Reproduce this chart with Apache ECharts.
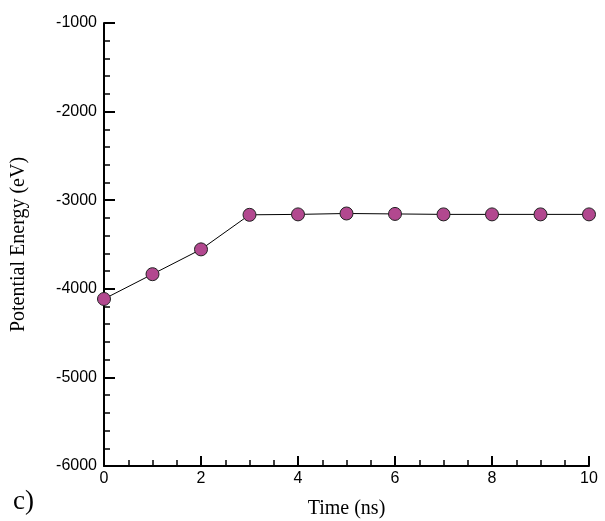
<!DOCTYPE html>
<html>
<head>
<meta charset="utf-8">
<script src="https://cdn.jsdelivr.net/npm/echarts@6/dist/echarts.min.js"></script>
<style>
  html, body { margin: 0; padding: 0; background: #fff; }
  #chart { width: 605px; height: 521px; }
</style>
</head>
<body>
<div id="chart"></div>
<script>
let timeNs = [0, 1, 2, 3, 4, 5, 6, 7, 8, 9, 10];
let energy = [-4115, -3835, -3555, -3165, -3160, -3150, -3155, -3160, -3160, -3160, -3160];

let chart = echarts.init(document.getElementById('chart'));

let option = {
  animation: false,
  grid: {
    left: 104,
    right: 16,
    top: 23,
    bottom: 55,
    outerBoundsMode: 'none'
  },
  xAxis: {
    type: 'value',
    min: 0,
    max: 10,
    interval: 2,
    name: 'Time (ns)',
    nameLocation: 'middle',
    nameGap: 33,
    nameTextStyle: { fontFamily: 'Liberation Serif', fontSize: 20, color: '#000' },
    axisLine: { lineStyle: { color: '#000', width: 2 } },
    axisTick: { inside: true, length: 10, lineStyle: { color: '#000', width: 2 } },
    minorTick: { show: true, splitNumber: 4, length: 6, lineStyle: { color: '#000', width: 1.5 } },
    axisLabel: { fontFamily: 'Liberation Sans', fontSize: 16, color: '#000', margin: 5 },
    splitLine: { show: false }
  },
  yAxis: {
    type: 'value',
    min: -6000,
    max: -1000,
    interval: 1000,
    name: 'Potential Energy (eV)',
    nameLocation: 'middle',
    nameGap: 75,
    nameTextStyle: { fontFamily: 'Liberation Serif', fontSize: 20, color: '#000' },
    axisLine: { show: true, lineStyle: { color: '#000', width: 2 } },
    axisTick: { show: true, inside: true, length: 11, lineStyle: { color: '#000', width: 2 } },
    minorTick: { show: true, splitNumber: 5, length: 6, lineStyle: { color: '#000', width: 1.5 } },
    axisLabel: {
      fontFamily: 'Liberation Sans',
      fontSize: 16,
      color: '#000',
      margin: 7,
      formatter: v => String(v)
    },
    splitLine: { show: false }
  },
  graphic: [{
    type: 'text',
    left: 13,
    top: 488,
    style: { text: 'c)', font: '27px "Liberation Serif"', fill: '#000' }
  }],
  series: [{
    type: 'line',
    data: timeNs.map((t, i) => [t, energy[i]]),
    symbol: 'circle',
    symbolSize: 13,
    lineStyle: { color: '#000', width: 1 },
    itemStyle: { color: '#B2488F', borderColor: '#222', borderWidth: 1 },
    z: 3
  }]
};

chart.setOption(option);
</script>
</body>
</html>
